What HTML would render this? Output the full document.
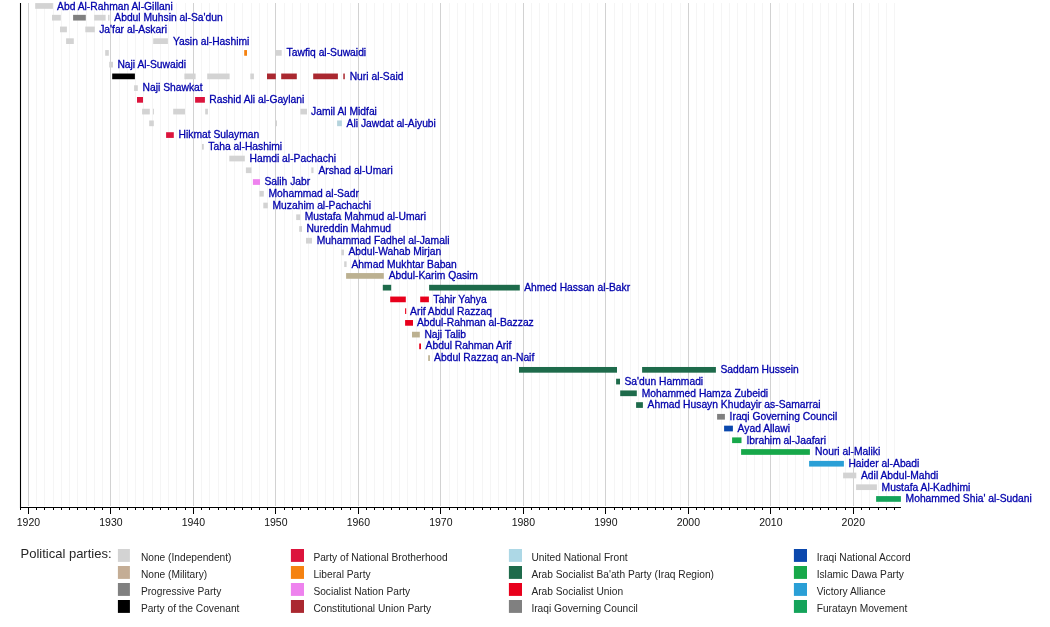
<!DOCTYPE html><html><head><meta charset="utf-8"><style>html,body{margin:0;padding:0;background:#fff;}svg{display:block;will-change:transform;}text{font-family:"Liberation Sans",sans-serif;}</style></head><body>
<svg width="1050" height="627" viewBox="0 0 1050 627">
<line x1="36.50" y1="3.0" x2="36.50" y2="506.0" stroke="#f5f5f5" stroke-width="1"/>
<line x1="44.50" y1="3.0" x2="44.50" y2="506.0" stroke="#f5f5f5" stroke-width="1"/>
<line x1="53.50" y1="3.0" x2="53.50" y2="506.0" stroke="#f5f5f5" stroke-width="1"/>
<line x1="61.50" y1="3.0" x2="61.50" y2="506.0" stroke="#f5f5f5" stroke-width="1"/>
<line x1="69.50" y1="3.0" x2="69.50" y2="506.0" stroke="#f5f5f5" stroke-width="1"/>
<line x1="77.50" y1="3.0" x2="77.50" y2="506.0" stroke="#f5f5f5" stroke-width="1"/>
<line x1="86.50" y1="3.0" x2="86.50" y2="506.0" stroke="#f5f5f5" stroke-width="1"/>
<line x1="94.50" y1="3.0" x2="94.50" y2="506.0" stroke="#f5f5f5" stroke-width="1"/>
<line x1="102.50" y1="3.0" x2="102.50" y2="506.0" stroke="#f5f5f5" stroke-width="1"/>
<line x1="119.50" y1="3.0" x2="119.50" y2="506.0" stroke="#f5f5f5" stroke-width="1"/>
<line x1="127.50" y1="3.0" x2="127.50" y2="506.0" stroke="#f5f5f5" stroke-width="1"/>
<line x1="135.50" y1="3.0" x2="135.50" y2="506.0" stroke="#f5f5f5" stroke-width="1"/>
<line x1="143.50" y1="3.0" x2="143.50" y2="506.0" stroke="#f5f5f5" stroke-width="1"/>
<line x1="152.50" y1="3.0" x2="152.50" y2="506.0" stroke="#f5f5f5" stroke-width="1"/>
<line x1="160.50" y1="3.0" x2="160.50" y2="506.0" stroke="#f5f5f5" stroke-width="1"/>
<line x1="168.50" y1="3.0" x2="168.50" y2="506.0" stroke="#f5f5f5" stroke-width="1"/>
<line x1="176.50" y1="3.0" x2="176.50" y2="506.0" stroke="#f5f5f5" stroke-width="1"/>
<line x1="185.50" y1="3.0" x2="185.50" y2="506.0" stroke="#f5f5f5" stroke-width="1"/>
<line x1="201.50" y1="3.0" x2="201.50" y2="506.0" stroke="#f5f5f5" stroke-width="1"/>
<line x1="209.50" y1="3.0" x2="209.50" y2="506.0" stroke="#f5f5f5" stroke-width="1"/>
<line x1="218.50" y1="3.0" x2="218.50" y2="506.0" stroke="#f5f5f5" stroke-width="1"/>
<line x1="226.50" y1="3.0" x2="226.50" y2="506.0" stroke="#f5f5f5" stroke-width="1"/>
<line x1="234.50" y1="3.0" x2="234.50" y2="506.0" stroke="#f5f5f5" stroke-width="1"/>
<line x1="242.50" y1="3.0" x2="242.50" y2="506.0" stroke="#f5f5f5" stroke-width="1"/>
<line x1="251.50" y1="3.0" x2="251.50" y2="506.0" stroke="#f5f5f5" stroke-width="1"/>
<line x1="259.50" y1="3.0" x2="259.50" y2="506.0" stroke="#f5f5f5" stroke-width="1"/>
<line x1="267.50" y1="3.0" x2="267.50" y2="506.0" stroke="#f5f5f5" stroke-width="1"/>
<line x1="284.50" y1="3.0" x2="284.50" y2="506.0" stroke="#f5f5f5" stroke-width="1"/>
<line x1="292.50" y1="3.0" x2="292.50" y2="506.0" stroke="#f5f5f5" stroke-width="1"/>
<line x1="300.50" y1="3.0" x2="300.50" y2="506.0" stroke="#f5f5f5" stroke-width="1"/>
<line x1="308.50" y1="3.0" x2="308.50" y2="506.0" stroke="#f5f5f5" stroke-width="1"/>
<line x1="317.50" y1="3.0" x2="317.50" y2="506.0" stroke="#f5f5f5" stroke-width="1"/>
<line x1="325.50" y1="3.0" x2="325.50" y2="506.0" stroke="#f5f5f5" stroke-width="1"/>
<line x1="333.50" y1="3.0" x2="333.50" y2="506.0" stroke="#f5f5f5" stroke-width="1"/>
<line x1="341.50" y1="3.0" x2="341.50" y2="506.0" stroke="#f5f5f5" stroke-width="1"/>
<line x1="350.50" y1="3.0" x2="350.50" y2="506.0" stroke="#f5f5f5" stroke-width="1"/>
<line x1="366.50" y1="3.0" x2="366.50" y2="506.0" stroke="#f5f5f5" stroke-width="1"/>
<line x1="374.50" y1="3.0" x2="374.50" y2="506.0" stroke="#f5f5f5" stroke-width="1"/>
<line x1="383.50" y1="3.0" x2="383.50" y2="506.0" stroke="#f5f5f5" stroke-width="1"/>
<line x1="391.50" y1="3.0" x2="391.50" y2="506.0" stroke="#f5f5f5" stroke-width="1"/>
<line x1="399.50" y1="3.0" x2="399.50" y2="506.0" stroke="#f5f5f5" stroke-width="1"/>
<line x1="407.50" y1="3.0" x2="407.50" y2="506.0" stroke="#f5f5f5" stroke-width="1"/>
<line x1="416.50" y1="3.0" x2="416.50" y2="506.0" stroke="#f5f5f5" stroke-width="1"/>
<line x1="424.50" y1="3.0" x2="424.50" y2="506.0" stroke="#f5f5f5" stroke-width="1"/>
<line x1="432.50" y1="3.0" x2="432.50" y2="506.0" stroke="#f5f5f5" stroke-width="1"/>
<line x1="449.50" y1="3.0" x2="449.50" y2="506.0" stroke="#f5f5f5" stroke-width="1"/>
<line x1="457.50" y1="3.0" x2="457.50" y2="506.0" stroke="#f5f5f5" stroke-width="1"/>
<line x1="465.50" y1="3.0" x2="465.50" y2="506.0" stroke="#f5f5f5" stroke-width="1"/>
<line x1="473.50" y1="3.0" x2="473.50" y2="506.0" stroke="#f5f5f5" stroke-width="1"/>
<line x1="482.50" y1="3.0" x2="482.50" y2="506.0" stroke="#f5f5f5" stroke-width="1"/>
<line x1="490.50" y1="3.0" x2="490.50" y2="506.0" stroke="#f5f5f5" stroke-width="1"/>
<line x1="498.50" y1="3.0" x2="498.50" y2="506.0" stroke="#f5f5f5" stroke-width="1"/>
<line x1="506.50" y1="3.0" x2="506.50" y2="506.0" stroke="#f5f5f5" stroke-width="1"/>
<line x1="515.50" y1="3.0" x2="515.50" y2="506.0" stroke="#f5f5f5" stroke-width="1"/>
<line x1="531.50" y1="3.0" x2="531.50" y2="506.0" stroke="#f5f5f5" stroke-width="1"/>
<line x1="539.50" y1="3.0" x2="539.50" y2="506.0" stroke="#f5f5f5" stroke-width="1"/>
<line x1="548.50" y1="3.0" x2="548.50" y2="506.0" stroke="#f5f5f5" stroke-width="1"/>
<line x1="556.50" y1="3.0" x2="556.50" y2="506.0" stroke="#f5f5f5" stroke-width="1"/>
<line x1="564.50" y1="3.0" x2="564.50" y2="506.0" stroke="#f5f5f5" stroke-width="1"/>
<line x1="572.50" y1="3.0" x2="572.50" y2="506.0" stroke="#f5f5f5" stroke-width="1"/>
<line x1="581.50" y1="3.0" x2="581.50" y2="506.0" stroke="#f5f5f5" stroke-width="1"/>
<line x1="589.50" y1="3.0" x2="589.50" y2="506.0" stroke="#f5f5f5" stroke-width="1"/>
<line x1="597.50" y1="3.0" x2="597.50" y2="506.0" stroke="#f5f5f5" stroke-width="1"/>
<line x1="614.50" y1="3.0" x2="614.50" y2="506.0" stroke="#f5f5f5" stroke-width="1"/>
<line x1="622.50" y1="3.0" x2="622.50" y2="506.0" stroke="#f5f5f5" stroke-width="1"/>
<line x1="630.50" y1="3.0" x2="630.50" y2="506.0" stroke="#f5f5f5" stroke-width="1"/>
<line x1="638.50" y1="3.0" x2="638.50" y2="506.0" stroke="#f5f5f5" stroke-width="1"/>
<line x1="647.50" y1="3.0" x2="647.50" y2="506.0" stroke="#f5f5f5" stroke-width="1"/>
<line x1="655.50" y1="3.0" x2="655.50" y2="506.0" stroke="#f5f5f5" stroke-width="1"/>
<line x1="663.50" y1="3.0" x2="663.50" y2="506.0" stroke="#f5f5f5" stroke-width="1"/>
<line x1="671.50" y1="3.0" x2="671.50" y2="506.0" stroke="#f5f5f5" stroke-width="1"/>
<line x1="680.50" y1="3.0" x2="680.50" y2="506.0" stroke="#f5f5f5" stroke-width="1"/>
<line x1="696.50" y1="3.0" x2="696.50" y2="506.0" stroke="#f5f5f5" stroke-width="1"/>
<line x1="704.50" y1="3.0" x2="704.50" y2="506.0" stroke="#f5f5f5" stroke-width="1"/>
<line x1="713.50" y1="3.0" x2="713.50" y2="506.0" stroke="#f5f5f5" stroke-width="1"/>
<line x1="721.50" y1="3.0" x2="721.50" y2="506.0" stroke="#f5f5f5" stroke-width="1"/>
<line x1="729.50" y1="3.0" x2="729.50" y2="506.0" stroke="#f5f5f5" stroke-width="1"/>
<line x1="737.50" y1="3.0" x2="737.50" y2="506.0" stroke="#f5f5f5" stroke-width="1"/>
<line x1="746.50" y1="3.0" x2="746.50" y2="506.0" stroke="#f5f5f5" stroke-width="1"/>
<line x1="754.50" y1="3.0" x2="754.50" y2="506.0" stroke="#f5f5f5" stroke-width="1"/>
<line x1="762.50" y1="3.0" x2="762.50" y2="506.0" stroke="#f5f5f5" stroke-width="1"/>
<line x1="779.50" y1="3.0" x2="779.50" y2="506.0" stroke="#f5f5f5" stroke-width="1"/>
<line x1="787.50" y1="3.0" x2="787.50" y2="506.0" stroke="#f5f5f5" stroke-width="1"/>
<line x1="795.50" y1="3.0" x2="795.50" y2="506.0" stroke="#f5f5f5" stroke-width="1"/>
<line x1="803.50" y1="3.0" x2="803.50" y2="506.0" stroke="#f5f5f5" stroke-width="1"/>
<line x1="812.50" y1="3.0" x2="812.50" y2="506.0" stroke="#f5f5f5" stroke-width="1"/>
<line x1="820.50" y1="3.0" x2="820.50" y2="506.0" stroke="#f5f5f5" stroke-width="1"/>
<line x1="828.50" y1="3.0" x2="828.50" y2="506.0" stroke="#f5f5f5" stroke-width="1"/>
<line x1="836.50" y1="3.0" x2="836.50" y2="506.0" stroke="#f5f5f5" stroke-width="1"/>
<line x1="845.50" y1="3.0" x2="845.50" y2="506.0" stroke="#f5f5f5" stroke-width="1"/>
<line x1="861.50" y1="3.0" x2="861.50" y2="506.0" stroke="#f5f5f5" stroke-width="1"/>
<line x1="869.50" y1="3.0" x2="869.50" y2="506.0" stroke="#f5f5f5" stroke-width="1"/>
<line x1="878.50" y1="3.0" x2="878.50" y2="506.0" stroke="#f5f5f5" stroke-width="1"/>
<line x1="886.50" y1="3.0" x2="886.50" y2="506.0" stroke="#f5f5f5" stroke-width="1"/>
<line x1="894.50" y1="3.0" x2="894.50" y2="506.0" stroke="#f5f5f5" stroke-width="1"/>
<line x1="28.50" y1="3.0" x2="28.50" y2="506.0" stroke="#d2d2d2" stroke-width="1"/>
<line x1="110.50" y1="3.0" x2="110.50" y2="506.0" stroke="#d2d2d2" stroke-width="1"/>
<line x1="193.50" y1="3.0" x2="193.50" y2="506.0" stroke="#d2d2d2" stroke-width="1"/>
<line x1="275.50" y1="3.0" x2="275.50" y2="506.0" stroke="#d2d2d2" stroke-width="1"/>
<line x1="358.50" y1="3.0" x2="358.50" y2="506.0" stroke="#d2d2d2" stroke-width="1"/>
<line x1="440.50" y1="3.0" x2="440.50" y2="506.0" stroke="#d2d2d2" stroke-width="1"/>
<line x1="523.50" y1="3.0" x2="523.50" y2="506.0" stroke="#d2d2d2" stroke-width="1"/>
<line x1="605.50" y1="3.0" x2="605.50" y2="506.0" stroke="#d2d2d2" stroke-width="1"/>
<line x1="688.50" y1="3.0" x2="688.50" y2="506.0" stroke="#d2d2d2" stroke-width="1"/>
<line x1="770.50" y1="3.0" x2="770.50" y2="506.0" stroke="#d2d2d2" stroke-width="1"/>
<line x1="853.50" y1="3.0" x2="853.50" y2="506.0" stroke="#d2d2d2" stroke-width="1"/>
<rect x="35.20" y="3.10" width="17.70" height="5.7" fill="#d3d3d3"/>
<rect x="52.00" y="14.84" width="8.80" height="5.7" fill="#d3d3d3"/>
<rect x="73.10" y="14.84" width="12.70" height="5.7" fill="#808080"/>
<rect x="94.20" y="14.84" width="11.40" height="5.7" fill="#d3d3d3"/>
<rect x="108.10" y="14.84" width="1.40" height="5.7" fill="#d3d3d3"/>
<rect x="60.00" y="26.58" width="6.90" height="5.7" fill="#d3d3d3"/>
<rect x="85.30" y="26.58" width="9.50" height="5.7" fill="#d3d3d3"/>
<rect x="66.10" y="38.31" width="7.70" height="5.7" fill="#d3d3d3"/>
<rect x="153.20" y="38.31" width="14.70" height="5.7" fill="#d3d3d3"/>
<rect x="105.20" y="50.05" width="3.60" height="5.7" fill="#d3d3d3"/>
<rect x="244.20" y="50.05" width="2.80" height="5.7" fill="#f58210"/>
<rect x="276.00" y="50.05" width="5.70" height="5.7" fill="#d3d3d3"/>
<rect x="109.20" y="61.79" width="3.80" height="5.7" fill="#d3d3d3"/>
<rect x="112.20" y="73.53" width="22.70" height="5.7" fill="#000000"/>
<rect x="184.40" y="73.53" width="11.20" height="5.7" fill="#d3d3d3"/>
<rect x="207.20" y="73.53" width="22.40" height="5.7" fill="#d3d3d3"/>
<rect x="250.30" y="73.53" width="3.60" height="5.7" fill="#d3d3d3"/>
<rect x="267.00" y="73.53" width="8.80" height="5.7" fill="#aa2830"/>
<rect x="281.20" y="73.53" width="15.60" height="5.7" fill="#aa2830"/>
<rect x="313.20" y="73.53" width="24.70" height="5.7" fill="#aa2830"/>
<rect x="343.30" y="73.53" width="1.50" height="5.7" fill="#aa2830"/>
<rect x="134.10" y="85.27" width="3.70" height="5.7" fill="#d3d3d3"/>
<rect x="137.00" y="97.00" width="6.00" height="5.7" fill="#dc143c"/>
<rect x="195.10" y="97.00" width="9.80" height="5.7" fill="#dc143c"/>
<rect x="142.10" y="108.74" width="7.70" height="5.7" fill="#d3d3d3"/>
<rect x="152.90" y="108.74" width="1.00" height="5.7" fill="#d3d3d3"/>
<rect x="173.20" y="108.74" width="11.80" height="5.7" fill="#d3d3d3"/>
<rect x="205.20" y="108.74" width="2.70" height="5.7" fill="#d3d3d3"/>
<rect x="300.40" y="108.74" width="6.60" height="5.7" fill="#d3d3d3"/>
<rect x="149.20" y="120.48" width="4.60" height="5.7" fill="#d3d3d3"/>
<rect x="275.90" y="120.48" width="1.10" height="5.7" fill="#d3d3d3"/>
<rect x="337.10" y="120.48" width="4.80" height="5.7" fill="#b5d3dc"/>
<rect x="166.10" y="132.22" width="7.70" height="5.7" fill="#dc143c"/>
<rect x="202.00" y="143.96" width="1.80" height="5.7" fill="#d3d3d3"/>
<rect x="229.30" y="155.69" width="15.50" height="5.7" fill="#d3d3d3"/>
<rect x="245.90" y="167.43" width="5.60" height="5.7" fill="#d3d3d3"/>
<rect x="311.30" y="167.43" width="2.20" height="5.7" fill="#d3d3d3"/>
<rect x="252.90" y="179.17" width="7.10" height="5.7" fill="#ee82ee"/>
<rect x="259.40" y="190.91" width="4.40" height="5.7" fill="#d3d3d3"/>
<rect x="263.30" y="202.65" width="4.50" height="5.7" fill="#d3d3d3"/>
<rect x="296.20" y="214.38" width="4.10" height="5.7" fill="#d3d3d3"/>
<rect x="299.20" y="226.12" width="2.80" height="5.7" fill="#d3d3d3"/>
<rect x="306.00" y="237.86" width="6.00" height="5.7" fill="#d3d3d3"/>
<rect x="341.30" y="249.60" width="2.70" height="5.7" fill="#d3d3d3"/>
<rect x="344.20" y="261.34" width="2.40" height="5.7" fill="#d3d3d3"/>
<rect x="346.10" y="273.07" width="37.70" height="5.7" fill="#bcb191"/>
<rect x="382.80" y="284.81" width="8.40" height="5.7" fill="#1e6b4b"/>
<rect x="429.10" y="284.81" width="90.70" height="5.7" fill="#1e6b4b"/>
<rect x="390.20" y="296.55" width="15.60" height="5.7" fill="#e8001c"/>
<rect x="420.20" y="296.55" width="8.70" height="5.7" fill="#e8001c"/>
<rect x="405.10" y="308.29" width="1.10" height="5.7" fill="#e8001c"/>
<rect x="405.10" y="320.03" width="7.90" height="5.7" fill="#e8001c"/>
<rect x="412.00" y="331.76" width="7.80" height="5.7" fill="#bcb191"/>
<rect x="419.20" y="343.50" width="1.80" height="5.7" fill="#e8001c"/>
<rect x="428.20" y="355.24" width="1.70" height="5.7" fill="#bcb191"/>
<rect x="519.00" y="366.98" width="98.00" height="5.7" fill="#1e6b4b"/>
<rect x="642.10" y="366.98" width="73.80" height="5.7" fill="#1e6b4b"/>
<rect x="616.10" y="378.72" width="3.90" height="5.7" fill="#1e6b4b"/>
<rect x="620.20" y="390.45" width="16.60" height="5.7" fill="#1e6b4b"/>
<rect x="636.10" y="402.19" width="6.80" height="5.7" fill="#1e6b4b"/>
<rect x="717.10" y="413.93" width="7.80" height="5.7" fill="#808080"/>
<rect x="724.10" y="425.67" width="8.80" height="5.7" fill="#0b48ad"/>
<rect x="732.10" y="437.41" width="9.40" height="5.7" fill="#17a84a"/>
<rect x="741.10" y="449.14" width="68.80" height="5.7" fill="#17a84a"/>
<rect x="809.10" y="460.88" width="34.80" height="5.7" fill="#2a9fd6"/>
<rect x="843.10" y="472.62" width="13.20" height="5.7" fill="#d3d3d3"/>
<rect x="856.10" y="484.36" width="20.80" height="5.7" fill="#d3d3d3"/>
<rect x="876.10" y="496.10" width="24.80" height="5.7" fill="#14a35a"/>
<text x="57.10" y="9.70" font-size="10.3" fill="#0000ac" stroke="#0000ac" stroke-width="0.3">Abd Al-Rahman Al-Gillani</text>
<text x="114.30" y="21.44" font-size="10.3" fill="#0000ac" stroke="#0000ac" stroke-width="0.3">Abdul Muhsin al-Sa'dun</text>
<text x="99.20" y="32.58" font-size="10.3" fill="#0000ac" stroke="#0000ac" stroke-width="0.3">Ja'far al-Askari</text>
<text x="172.90" y="44.71" font-size="10.3" fill="#0000ac" stroke="#0000ac" stroke-width="0.3">Yasin al-Hashimi</text>
<text x="286.60" y="56.20" font-size="10.3" fill="#0000ac" stroke="#0000ac" stroke-width="0.3">Tawfiq al-Suwaidi</text>
<text x="117.40" y="67.94" font-size="10.3" fill="#0000ac" stroke="#0000ac" stroke-width="0.3">Naji Al-Suwaidi</text>
<text x="349.70" y="79.63" font-size="10.3" fill="#0000ac" stroke="#0000ac" stroke-width="0.3">Nuri al-Said</text>
<text x="142.60" y="91.42" font-size="10.3" fill="#0000ac" stroke="#0000ac" stroke-width="0.3">Naji Shawkat</text>
<text x="209.30" y="103.15" font-size="10.3" fill="#0000ac" stroke="#0000ac" stroke-width="0.3">Rashid Ali al-Gaylani</text>
<text x="311.10" y="114.64" font-size="10.3" fill="#0000ac" stroke="#0000ac" stroke-width="0.3">Jamil Al Midfai</text>
<text x="346.60" y="126.58" font-size="10.3" fill="#0000ac" stroke="#0000ac" stroke-width="0.3">Ali Jawdat al-Aiyubi</text>
<text x="178.60" y="138.37" font-size="10.3" fill="#0000ac" stroke="#0000ac" stroke-width="0.3">Hikmat Sulayman</text>
<text x="208.30" y="150.11" font-size="10.3" fill="#0000ac" stroke="#0000ac" stroke-width="0.3">Taha al-Hashimi</text>
<text x="249.50" y="161.84" font-size="10.3" fill="#0000ac" stroke="#0000ac" stroke-width="0.3">Hamdi al-Pachachi</text>
<text x="318.40" y="173.58" font-size="10.3" fill="#0000ac" stroke="#0000ac" stroke-width="0.3">Arshad al-Umari</text>
<text x="264.40" y="185.32" font-size="10.3" fill="#0000ac" stroke="#0000ac" stroke-width="0.3">Salih Jabr</text>
<text x="268.40" y="197.41" font-size="10.3" fill="#0000ac" stroke="#0000ac" stroke-width="0.3">Mohammad al-Sadr</text>
<text x="272.50" y="208.55" font-size="10.3" fill="#0000ac" stroke="#0000ac" stroke-width="0.3">Muzahim al-Pachachi</text>
<text x="304.70" y="220.48" font-size="10.3" fill="#0000ac" stroke="#0000ac" stroke-width="0.3">Mustafa Mahmud al-Umari</text>
<text x="306.40" y="232.42" font-size="10.3" fill="#0000ac" stroke="#0000ac" stroke-width="0.3">Nureddin Mahmud</text>
<text x="316.70" y="244.01" font-size="10.3" fill="#0000ac" stroke="#0000ac" stroke-width="0.3">Muhammad Fadhel al-Jamali</text>
<text x="348.40" y="255.10" font-size="10.3" fill="#0000ac" stroke="#0000ac" stroke-width="0.3">Abdul-Wahab Mirjan</text>
<text x="351.50" y="267.54" font-size="10.3" fill="#0000ac" stroke="#0000ac" stroke-width="0.3">Ahmad Mukhtar Baban</text>
<text x="388.70" y="279.37" font-size="10.3" fill="#0000ac" stroke="#0000ac" stroke-width="0.3">Abdul-Karim Qasim</text>
<text x="524.20" y="290.96" font-size="10.3" fill="#0000ac" stroke="#0000ac" stroke-width="0.3">Ahmed Hassan al-Bakr</text>
<text x="433.30" y="302.85" font-size="10.3" fill="#0000ac" stroke="#0000ac" stroke-width="0.3">Tahir Yahya</text>
<text x="410.10" y="314.79" font-size="10.3" fill="#0000ac" stroke="#0000ac" stroke-width="0.3">Arif Abdul Razzaq</text>
<text x="417.00" y="325.53" font-size="10.3" fill="#0000ac" stroke="#0000ac" stroke-width="0.3">Abdul-Rahman al-Bazzaz</text>
<text x="424.40" y="337.66" font-size="10.3" fill="#0000ac" stroke="#0000ac" stroke-width="0.3">Naji Talib</text>
<text x="425.60" y="349.40" font-size="10.3" fill="#0000ac" stroke="#0000ac" stroke-width="0.3">Abdul Rahman Arif</text>
<text x="434.10" y="361.34" font-size="10.3" fill="#0000ac" stroke="#0000ac" stroke-width="0.3">Abdul Razzaq an-Naif</text>
<text x="720.40" y="372.68" font-size="10.3" fill="#0000ac" stroke="#0000ac" stroke-width="0.3">Saddam Hussein</text>
<text x="624.50" y="384.87" font-size="10.3" fill="#0000ac" stroke="#0000ac" stroke-width="0.3">Sa'dun Hammadi</text>
<text x="641.70" y="396.60" font-size="10.3" fill="#0000ac" stroke="#0000ac" stroke-width="0.3">Mohammed Hamza Zubeidi</text>
<text x="647.60" y="408.34" font-size="10.3" fill="#0000ac" stroke="#0000ac" stroke-width="0.3">Ahmad Husayn Khudayir as-Samarrai</text>
<text x="729.60" y="420.08" font-size="10.3" fill="#0000ac" stroke="#0000ac" stroke-width="0.3">Iraqi Governing Council</text>
<text x="737.60" y="431.82" font-size="10.3" fill="#0000ac" stroke="#0000ac" stroke-width="0.3">Ayad Allawi</text>
<text x="746.40" y="443.56" font-size="10.3" fill="#0000ac" stroke="#0000ac" stroke-width="0.3">Ibrahim al-Jaafari</text>
<text x="815.00" y="455.29" font-size="10.3" fill="#0000ac" stroke="#0000ac" stroke-width="0.3">Nouri al-Maliki</text>
<text x="848.40" y="467.03" font-size="10.3" fill="#0000ac" stroke="#0000ac" stroke-width="0.3">Haider al-Abadi</text>
<text x="861.00" y="478.77" font-size="10.3" fill="#0000ac" stroke="#0000ac" stroke-width="0.3">Adil Abdul-Mahdi</text>
<text x="881.60" y="490.66" font-size="10.3" fill="#0000ac" stroke="#0000ac" stroke-width="0.3">Mustafa Al-Kadhimi</text>
<text x="905.60" y="501.70" font-size="10.3" fill="#0000ac" stroke="#0000ac" stroke-width="0.3">Mohammed Shia' al-Sudani</text>
<line x1="20.5" y1="3.0" x2="20.5" y2="508.0" stroke="#000" stroke-width="1.1"/>
<line x1="20" y1="507.5" x2="901" y2="507.5" stroke="#000" stroke-width="1.1"/>
<line x1="20.50" y1="507.5" x2="20.50" y2="510.00" stroke="#000" stroke-width="1"/>
<line x1="28.50" y1="507.5" x2="28.50" y2="514.00" stroke="#000" stroke-width="1"/>
<line x1="36.50" y1="507.5" x2="36.50" y2="510.00" stroke="#000" stroke-width="1"/>
<line x1="44.50" y1="507.5" x2="44.50" y2="510.00" stroke="#000" stroke-width="1"/>
<line x1="53.50" y1="507.5" x2="53.50" y2="510.00" stroke="#000" stroke-width="1"/>
<line x1="61.50" y1="507.5" x2="61.50" y2="510.00" stroke="#000" stroke-width="1"/>
<line x1="69.50" y1="507.5" x2="69.50" y2="510.00" stroke="#000" stroke-width="1"/>
<line x1="77.50" y1="507.5" x2="77.50" y2="510.00" stroke="#000" stroke-width="1"/>
<line x1="86.50" y1="507.5" x2="86.50" y2="510.00" stroke="#000" stroke-width="1"/>
<line x1="94.50" y1="507.5" x2="94.50" y2="510.00" stroke="#000" stroke-width="1"/>
<line x1="102.50" y1="507.5" x2="102.50" y2="510.00" stroke="#000" stroke-width="1"/>
<line x1="110.50" y1="507.5" x2="110.50" y2="514.00" stroke="#000" stroke-width="1"/>
<line x1="119.50" y1="507.5" x2="119.50" y2="510.00" stroke="#000" stroke-width="1"/>
<line x1="127.50" y1="507.5" x2="127.50" y2="510.00" stroke="#000" stroke-width="1"/>
<line x1="135.50" y1="507.5" x2="135.50" y2="510.00" stroke="#000" stroke-width="1"/>
<line x1="143.50" y1="507.5" x2="143.50" y2="510.00" stroke="#000" stroke-width="1"/>
<line x1="152.50" y1="507.5" x2="152.50" y2="510.00" stroke="#000" stroke-width="1"/>
<line x1="160.50" y1="507.5" x2="160.50" y2="510.00" stroke="#000" stroke-width="1"/>
<line x1="168.50" y1="507.5" x2="168.50" y2="510.00" stroke="#000" stroke-width="1"/>
<line x1="176.50" y1="507.5" x2="176.50" y2="510.00" stroke="#000" stroke-width="1"/>
<line x1="185.50" y1="507.5" x2="185.50" y2="510.00" stroke="#000" stroke-width="1"/>
<line x1="193.50" y1="507.5" x2="193.50" y2="514.00" stroke="#000" stroke-width="1"/>
<line x1="201.50" y1="507.5" x2="201.50" y2="510.00" stroke="#000" stroke-width="1"/>
<line x1="209.50" y1="507.5" x2="209.50" y2="510.00" stroke="#000" stroke-width="1"/>
<line x1="218.50" y1="507.5" x2="218.50" y2="510.00" stroke="#000" stroke-width="1"/>
<line x1="226.50" y1="507.5" x2="226.50" y2="510.00" stroke="#000" stroke-width="1"/>
<line x1="234.50" y1="507.5" x2="234.50" y2="510.00" stroke="#000" stroke-width="1"/>
<line x1="242.50" y1="507.5" x2="242.50" y2="510.00" stroke="#000" stroke-width="1"/>
<line x1="251.50" y1="507.5" x2="251.50" y2="510.00" stroke="#000" stroke-width="1"/>
<line x1="259.50" y1="507.5" x2="259.50" y2="510.00" stroke="#000" stroke-width="1"/>
<line x1="267.50" y1="507.5" x2="267.50" y2="510.00" stroke="#000" stroke-width="1"/>
<line x1="275.50" y1="507.5" x2="275.50" y2="514.00" stroke="#000" stroke-width="1"/>
<line x1="284.50" y1="507.5" x2="284.50" y2="510.00" stroke="#000" stroke-width="1"/>
<line x1="292.50" y1="507.5" x2="292.50" y2="510.00" stroke="#000" stroke-width="1"/>
<line x1="300.50" y1="507.5" x2="300.50" y2="510.00" stroke="#000" stroke-width="1"/>
<line x1="308.50" y1="507.5" x2="308.50" y2="510.00" stroke="#000" stroke-width="1"/>
<line x1="317.50" y1="507.5" x2="317.50" y2="510.00" stroke="#000" stroke-width="1"/>
<line x1="325.50" y1="507.5" x2="325.50" y2="510.00" stroke="#000" stroke-width="1"/>
<line x1="333.50" y1="507.5" x2="333.50" y2="510.00" stroke="#000" stroke-width="1"/>
<line x1="341.50" y1="507.5" x2="341.50" y2="510.00" stroke="#000" stroke-width="1"/>
<line x1="350.50" y1="507.5" x2="350.50" y2="510.00" stroke="#000" stroke-width="1"/>
<line x1="358.50" y1="507.5" x2="358.50" y2="514.00" stroke="#000" stroke-width="1"/>
<line x1="366.50" y1="507.5" x2="366.50" y2="510.00" stroke="#000" stroke-width="1"/>
<line x1="374.50" y1="507.5" x2="374.50" y2="510.00" stroke="#000" stroke-width="1"/>
<line x1="383.50" y1="507.5" x2="383.50" y2="510.00" stroke="#000" stroke-width="1"/>
<line x1="391.50" y1="507.5" x2="391.50" y2="510.00" stroke="#000" stroke-width="1"/>
<line x1="399.50" y1="507.5" x2="399.50" y2="510.00" stroke="#000" stroke-width="1"/>
<line x1="407.50" y1="507.5" x2="407.50" y2="510.00" stroke="#000" stroke-width="1"/>
<line x1="416.50" y1="507.5" x2="416.50" y2="510.00" stroke="#000" stroke-width="1"/>
<line x1="424.50" y1="507.5" x2="424.50" y2="510.00" stroke="#000" stroke-width="1"/>
<line x1="432.50" y1="507.5" x2="432.50" y2="510.00" stroke="#000" stroke-width="1"/>
<line x1="440.50" y1="507.5" x2="440.50" y2="514.00" stroke="#000" stroke-width="1"/>
<line x1="449.50" y1="507.5" x2="449.50" y2="510.00" stroke="#000" stroke-width="1"/>
<line x1="457.50" y1="507.5" x2="457.50" y2="510.00" stroke="#000" stroke-width="1"/>
<line x1="465.50" y1="507.5" x2="465.50" y2="510.00" stroke="#000" stroke-width="1"/>
<line x1="473.50" y1="507.5" x2="473.50" y2="510.00" stroke="#000" stroke-width="1"/>
<line x1="482.50" y1="507.5" x2="482.50" y2="510.00" stroke="#000" stroke-width="1"/>
<line x1="490.50" y1="507.5" x2="490.50" y2="510.00" stroke="#000" stroke-width="1"/>
<line x1="498.50" y1="507.5" x2="498.50" y2="510.00" stroke="#000" stroke-width="1"/>
<line x1="506.50" y1="507.5" x2="506.50" y2="510.00" stroke="#000" stroke-width="1"/>
<line x1="515.50" y1="507.5" x2="515.50" y2="510.00" stroke="#000" stroke-width="1"/>
<line x1="523.50" y1="507.5" x2="523.50" y2="514.00" stroke="#000" stroke-width="1"/>
<line x1="531.50" y1="507.5" x2="531.50" y2="510.00" stroke="#000" stroke-width="1"/>
<line x1="539.50" y1="507.5" x2="539.50" y2="510.00" stroke="#000" stroke-width="1"/>
<line x1="548.50" y1="507.5" x2="548.50" y2="510.00" stroke="#000" stroke-width="1"/>
<line x1="556.50" y1="507.5" x2="556.50" y2="510.00" stroke="#000" stroke-width="1"/>
<line x1="564.50" y1="507.5" x2="564.50" y2="510.00" stroke="#000" stroke-width="1"/>
<line x1="572.50" y1="507.5" x2="572.50" y2="510.00" stroke="#000" stroke-width="1"/>
<line x1="581.50" y1="507.5" x2="581.50" y2="510.00" stroke="#000" stroke-width="1"/>
<line x1="589.50" y1="507.5" x2="589.50" y2="510.00" stroke="#000" stroke-width="1"/>
<line x1="597.50" y1="507.5" x2="597.50" y2="510.00" stroke="#000" stroke-width="1"/>
<line x1="605.50" y1="507.5" x2="605.50" y2="514.00" stroke="#000" stroke-width="1"/>
<line x1="614.50" y1="507.5" x2="614.50" y2="510.00" stroke="#000" stroke-width="1"/>
<line x1="622.50" y1="507.5" x2="622.50" y2="510.00" stroke="#000" stroke-width="1"/>
<line x1="630.50" y1="507.5" x2="630.50" y2="510.00" stroke="#000" stroke-width="1"/>
<line x1="638.50" y1="507.5" x2="638.50" y2="510.00" stroke="#000" stroke-width="1"/>
<line x1="647.50" y1="507.5" x2="647.50" y2="510.00" stroke="#000" stroke-width="1"/>
<line x1="655.50" y1="507.5" x2="655.50" y2="510.00" stroke="#000" stroke-width="1"/>
<line x1="663.50" y1="507.5" x2="663.50" y2="510.00" stroke="#000" stroke-width="1"/>
<line x1="671.50" y1="507.5" x2="671.50" y2="510.00" stroke="#000" stroke-width="1"/>
<line x1="680.50" y1="507.5" x2="680.50" y2="510.00" stroke="#000" stroke-width="1"/>
<line x1="688.50" y1="507.5" x2="688.50" y2="514.00" stroke="#000" stroke-width="1"/>
<line x1="696.50" y1="507.5" x2="696.50" y2="510.00" stroke="#000" stroke-width="1"/>
<line x1="704.50" y1="507.5" x2="704.50" y2="510.00" stroke="#000" stroke-width="1"/>
<line x1="713.50" y1="507.5" x2="713.50" y2="510.00" stroke="#000" stroke-width="1"/>
<line x1="721.50" y1="507.5" x2="721.50" y2="510.00" stroke="#000" stroke-width="1"/>
<line x1="729.50" y1="507.5" x2="729.50" y2="510.00" stroke="#000" stroke-width="1"/>
<line x1="737.50" y1="507.5" x2="737.50" y2="510.00" stroke="#000" stroke-width="1"/>
<line x1="746.50" y1="507.5" x2="746.50" y2="510.00" stroke="#000" stroke-width="1"/>
<line x1="754.50" y1="507.5" x2="754.50" y2="510.00" stroke="#000" stroke-width="1"/>
<line x1="762.50" y1="507.5" x2="762.50" y2="510.00" stroke="#000" stroke-width="1"/>
<line x1="770.50" y1="507.5" x2="770.50" y2="514.00" stroke="#000" stroke-width="1"/>
<line x1="779.50" y1="507.5" x2="779.50" y2="510.00" stroke="#000" stroke-width="1"/>
<line x1="787.50" y1="507.5" x2="787.50" y2="510.00" stroke="#000" stroke-width="1"/>
<line x1="795.50" y1="507.5" x2="795.50" y2="510.00" stroke="#000" stroke-width="1"/>
<line x1="803.50" y1="507.5" x2="803.50" y2="510.00" stroke="#000" stroke-width="1"/>
<line x1="812.50" y1="507.5" x2="812.50" y2="510.00" stroke="#000" stroke-width="1"/>
<line x1="820.50" y1="507.5" x2="820.50" y2="510.00" stroke="#000" stroke-width="1"/>
<line x1="828.50" y1="507.5" x2="828.50" y2="510.00" stroke="#000" stroke-width="1"/>
<line x1="836.50" y1="507.5" x2="836.50" y2="510.00" stroke="#000" stroke-width="1"/>
<line x1="845.50" y1="507.5" x2="845.50" y2="510.00" stroke="#000" stroke-width="1"/>
<line x1="853.50" y1="507.5" x2="853.50" y2="514.00" stroke="#000" stroke-width="1"/>
<line x1="861.50" y1="507.5" x2="861.50" y2="510.00" stroke="#000" stroke-width="1"/>
<line x1="869.50" y1="507.5" x2="869.50" y2="510.00" stroke="#000" stroke-width="1"/>
<line x1="878.50" y1="507.5" x2="878.50" y2="510.00" stroke="#000" stroke-width="1"/>
<line x1="886.50" y1="507.5" x2="886.50" y2="510.00" stroke="#000" stroke-width="1"/>
<line x1="894.50" y1="507.5" x2="894.50" y2="510.00" stroke="#000" stroke-width="1"/>
<text x="28.40" y="525.7" font-size="10.5" fill="#111" text-anchor="middle">1920</text>
<text x="110.89" y="525.7" font-size="10.5" fill="#111" text-anchor="middle">1930</text>
<text x="193.38" y="525.7" font-size="10.5" fill="#111" text-anchor="middle">1940</text>
<text x="275.87" y="525.7" font-size="10.5" fill="#111" text-anchor="middle">1950</text>
<text x="358.36" y="525.7" font-size="10.5" fill="#111" text-anchor="middle">1960</text>
<text x="440.85" y="525.7" font-size="10.5" fill="#111" text-anchor="middle">1970</text>
<text x="523.34" y="525.7" font-size="10.5" fill="#111" text-anchor="middle">1980</text>
<text x="605.83" y="525.7" font-size="10.5" fill="#111" text-anchor="middle">1990</text>
<text x="688.32" y="525.7" font-size="10.5" fill="#111" text-anchor="middle">2000</text>
<text x="770.81" y="525.7" font-size="10.5" fill="#111" text-anchor="middle">2010</text>
<text x="853.30" y="525.7" font-size="10.5" fill="#111" text-anchor="middle">2020</text>
<text x="20.50" y="558.0" font-size="13" fill="#262626">Political parties:</text>
<rect x="117.90" y="549.00" width="12.0" height="12.9" fill="#d3d3d3"/>
<text x="140.90" y="560.80" font-size="10.2" fill="#262626">None (Independent)</text>
<rect x="117.90" y="566.00" width="12.0" height="12.9" fill="#c4ad95"/>
<text x="140.90" y="577.70" font-size="10.2" fill="#262626">None (Military)</text>
<rect x="117.90" y="583.00" width="12.0" height="12.9" fill="#808080"/>
<text x="140.90" y="594.60" font-size="10.2" fill="#262626">Progressive Party</text>
<rect x="117.90" y="600.00" width="12.0" height="12.9" fill="#000000"/>
<text x="140.90" y="611.50" font-size="10.2" fill="#262626">Party of the Covenant</text>
<rect x="290.90" y="549.00" width="13.1" height="12.9" fill="#dc143c"/>
<text x="313.40" y="560.80" font-size="10.2" fill="#262626">Party of National Brotherhood</text>
<rect x="290.90" y="566.00" width="13.1" height="12.9" fill="#f58210"/>
<text x="313.40" y="577.70" font-size="10.2" fill="#262626">Liberal Party</text>
<rect x="290.90" y="583.00" width="13.1" height="12.9" fill="#ee82ee"/>
<text x="313.40" y="594.60" font-size="10.2" fill="#262626">Socialist Nation Party</text>
<rect x="290.90" y="600.00" width="13.1" height="12.9" fill="#aa2830"/>
<text x="313.40" y="611.50" font-size="10.2" fill="#262626">Constitutional Union Party</text>
<rect x="508.90" y="549.00" width="13.1" height="12.9" fill="#add8e6"/>
<text x="531.40" y="560.80" font-size="10.2" fill="#262626">United National Front</text>
<rect x="508.90" y="566.00" width="13.1" height="12.9" fill="#1e6b4b"/>
<text x="531.40" y="577.70" font-size="10.2" fill="#262626">Arab Socialist Ba'ath Party (Iraq Region)</text>
<rect x="508.90" y="583.00" width="13.1" height="12.9" fill="#e8001c"/>
<text x="531.40" y="594.60" font-size="10.2" fill="#262626">Arab Socialist Union</text>
<rect x="508.90" y="600.00" width="13.1" height="12.9" fill="#808080"/>
<text x="531.40" y="611.50" font-size="10.2" fill="#262626">Iraqi Governing Council</text>
<rect x="793.90" y="549.00" width="13.1" height="12.9" fill="#0b48ad"/>
<text x="816.70" y="560.80" font-size="10.2" fill="#262626">Iraqi National Accord</text>
<rect x="793.90" y="566.00" width="13.1" height="12.9" fill="#17a84a"/>
<text x="816.70" y="577.70" font-size="10.2" fill="#262626">Islamic Dawa Party</text>
<rect x="793.90" y="583.00" width="13.1" height="12.9" fill="#2a9fd6"/>
<text x="816.70" y="594.60" font-size="10.2" fill="#262626">Victory Alliance</text>
<rect x="793.90" y="600.00" width="13.1" height="12.9" fill="#14a35a"/>
<text x="816.70" y="611.50" font-size="10.2" fill="#262626">Furatayn Movement</text>
</svg></body></html>
